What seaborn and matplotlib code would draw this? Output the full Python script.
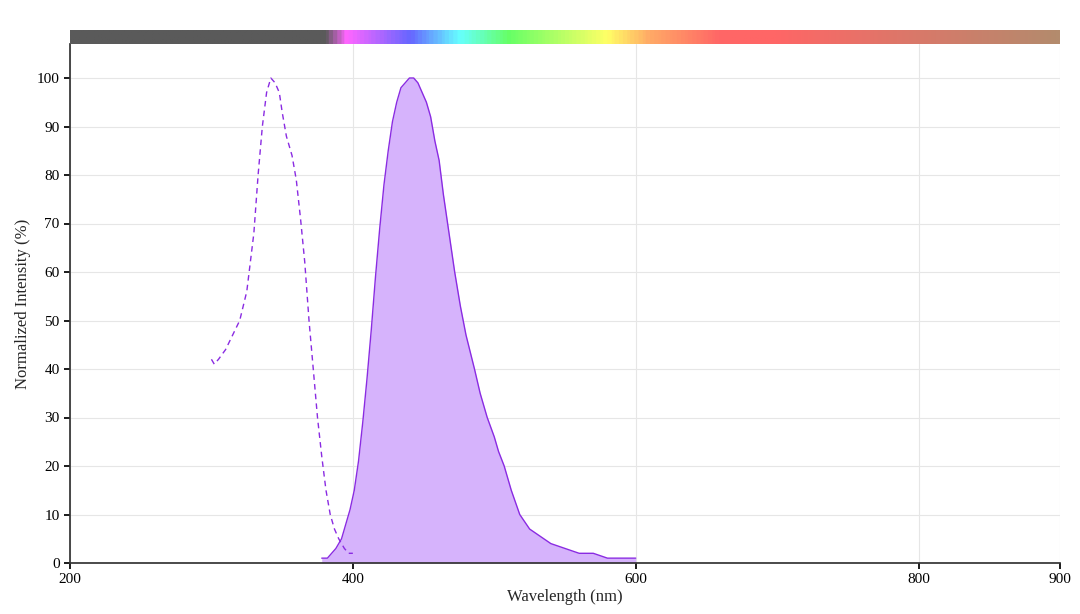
import numpy as np
import matplotlib
matplotlib.use("Agg")
import matplotlib.pyplot as plt
import seaborn as sns
from matplotlib.colors import LinearSegmentedColormap

ex_nm = [300,302,305,310,315,320,325,330,333,336,339,342,345,348,350,353,357,360,363,366,369,372,375,378,381,384,387,390,394,397,400]
ex_val = [42,41,42,44,47,50,56,68,80,90,97,100,99,97,93,88,84,79,71,62,50,40,30,22,15,10,7,5,3,2,2]
em_nm = [378,382,385,388,392,395,398,401,404,407,410,413,416,419,422,425,428,431,434,437,440,443,446,449,452,455,458,461,464,467,470,472,476,480,486,490,495,500,503,507,512,518,525,530,535,540,550,560,570,580,600]
em_val = [1,1,2,3,5,8,11,15,21,29,38,48,59,69,78,85,91,95,98,99,100,100,99,97,95,92,87,83,76,70,64,60,53,47,40,35,30,26,23,20,15,10,7,6,5,4,3,2,2,1,1]

sns.set_theme(style="white")
plt.rcParams['font.family'] = ['Liberation Serif', 'DejaVu Serif']

fig = plt.figure(figsize=(10.8, 6.14), dpi=100)
ax = fig.add_axes([70/1080, 1-563/614, 990/1080, 519/614])
ax.fill_between(em_nm, em_val, color='#d6b3fc', lw=0)
sns.lineplot(x=em_nm, y=em_val, ax=ax, color='#8a2be2', lw=1)
sns.lineplot(x=ex_nm, y=ex_val, ax=ax, color='#8a2be2', lw=1, linestyle=(0, (4, 3)))
ax.set_xlim(200, 900)
ax.set_ylim(0, 519/4.85)
ax.set_xticks([200, 400, 600, 800, 900])
ax.set_yticks(range(0, 101, 10))
ax.grid(True, color='#e6e6e6', lw=0.8)
for s in ['top', 'right']:
    ax.spines[s].set_visible(False)
ax.spines['left'].set_color('#333')
ax.spines['bottom'].set_color('#333')
ax.tick_params(axis='both', labelsize=11, colors='black', length=4, left=True, bottom=True)
ax.set_xlabel('Wavelength (nm)', fontsize=12, labelpad=2)
ax.set_ylabel('Normalized Intensity (%)', fontsize=12)

cax = fig.add_axes([70/1080, 1-44/614, 990/1080, 14/614])
stops = [(200,'#5a5a5a'),(380,'#5a5a5a'),(395,'#ff66ff'),(440,'#6666ff'),(475,'#66ffff'),(510,'#66ff66'),(580,'#ffff66'),(610,'#ffaa66'),(660,'#ff6666'),(700,'#ff6666'),(900,'#b38b6d')]
cmap = LinearSegmentedColormap.from_list('spec', [((n-200)/700, c) for n, c in stops])
cax.imshow(np.linspace(0, 1, 700)[None, :], aspect='auto', cmap=cmap, extent=[200, 900, 0, 1])
cax.set_axis_off()

fig.savefig('out.png', dpi=100)
